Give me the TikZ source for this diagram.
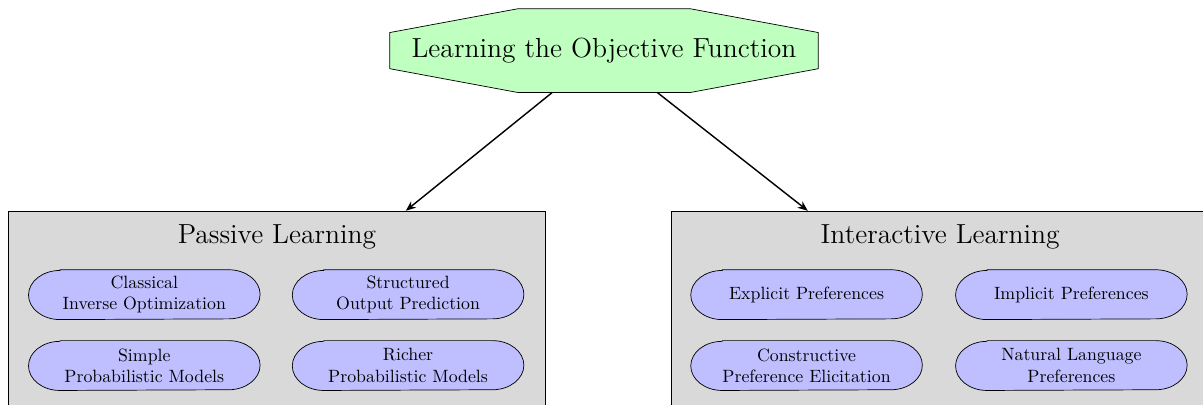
\documentclass[tikz,border=0pt]{standalone}
\usepackage{amsmath}
\usepackage{fontspec}
\newfontfamily\headfont[Extension=.otf]{lmroman12-regular}
\usepackage{tikz}
\usetikzlibrary{calc}
\usetikzlibrary{shapes,arrows,fit}
\usetikzlibrary{positioning}
\usetikzlibrary{arrows.meta, calc, shapes}

\begin{document}
\begin{tikzpicture}
  [
    node distance=1cm,
    every node/.style={font=\normalsize},
    align=center
  ]
      \tikzset{
        >={Stealth[width=1.6mm,length=2mm]},
        base/.style = {rectangle, draw=black, text centered},
        goalstyle/.style = {rectangle, minimum width=8.45cm, minimum height=1.64cm,
                            font=\headfont\fontsize{15.5pt}{18pt}\selectfont},
        areastyle/.style = {base, fill=gray!30, inner sep=0pt},
        titlestyle/.style = {font=\headfont\fontsize{15.5pt}{18pt}\selectfont},
        methodstyle/.style = {rectangle, text centered, minimum width=4.56cm,
                              minimum height=0.97cm, inner sep=1pt},
        pillstyle/.style = {draw=black, fill=blue!25},
    }
    \pgfdeclarelayer{arealayer}
    \pgfdeclarelayer{pilllayer}
    \pgfsetlayers{arealayer,pilllayer,main}

    \useasboundingbox (0,0) rectangle (23.76,-7.98);

    \node (goal) [goalstyle] at (11.93,-1.00) {Learning the Objective Function};

    % passive side
    \node (passive) [titlestyle] at (5.47,-4.68) {Passive Learning};
    \begin{scope}[on grid]
      \node (cio) [methodstyle, below left=1.14cm and 2.62cm of passive] {Classical\\Inverse Optimization};
      \node (sop) [methodstyle, right=5.21cm of cio] {Structured\\Output Prediction};
      \node (spm) [methodstyle, below=1.40cm of cio] {Simple\\Probabilistic Models};
      \node (rpm) [methodstyle, below=1.40cm of sop] {Richer\\Probabilistic Models};
    \end{scope}

    % interactive side
    \node (interactive) [titlestyle] at (18.57,-4.68) {Interactive Learning};
    \begin{scope}[on grid]
      \node (expl) [methodstyle, below left=1.14cm and 2.64cm of interactive] {Explicit Preferences};
      \node (impl) [methodstyle, right=5.23cm of expl] {Implicit Preferences};
      \node (cpe) [methodstyle, below=1.40cm of expl] {Constructive\\Preference Elicitation};
      \node (nlp) [methodstyle, below=1.40cm of impl] {Natural Language\\Preferences};
    \end{scope}

    \begin{pgfonlayer}{arealayer}
        \node (passivebox) [areastyle, fit={($(passive)+(-5.31,0.51)$) ($(passive)+(5.31,-3.60)$)}] {};
        \node (interactivebox) [areastyle, fit={($(interactive)+(-5.31,0.51)$) ($(interactive)+(5.31,-3.60)$)}] {};
        \filldraw[fill=green!25] ($(goal.north west)+(2.53,0)$) -- ($(goal.north east)+(-2.53,0)$)
          -- ($(goal.north east)+(0,-0.47)$) -- ($(goal.south east)+(0,0.47)$)
          -- ($(goal.south east)+(-2.53,0)$) -- ($(goal.south west)+(2.53,0)$)
          -- ($(goal.south west)+(0,0.47)$) -- ($(goal.north west)+(0,-0.47)$) -- cycle;
    \end{pgfonlayer}

    % pill outlines with elliptic ends
    \begin{pgfonlayer}{pilllayer}
        \foreach \m in {cio,sop,spm,rpm,expl,impl,cpe,nlp}
          \draw[pillstyle] ($(\m.north west)+(0.62,0)$) -- ($(\m.north east)+(-0.62,0)$)
            arc[start angle=90, end angle=-90, x radius=0.62cm, y radius=0.485cm]
            -- ($(\m.south west)+(0.62,0)$)
            arc[start angle=270, end angle=90, x radius=0.62cm, y radius=0.485cm] -- cycle;
    \end{pgfonlayer}

    \draw[->, thick] (goal) -- (passivebox);
    \draw[->, thick] (goal) -- (interactivebox);
\end{tikzpicture}
\end{document}
